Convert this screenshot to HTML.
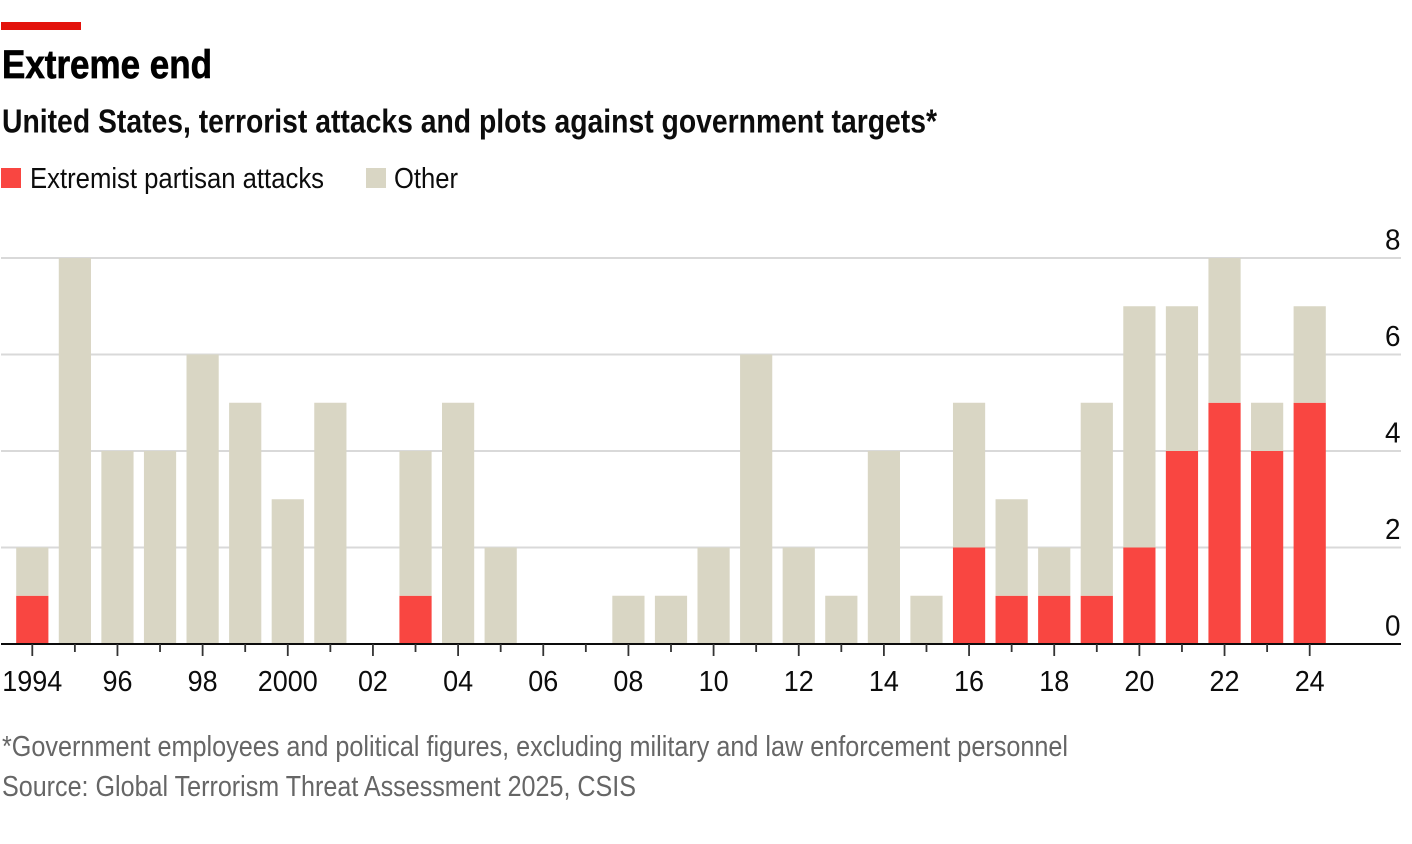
<!DOCTYPE html>
<html lang="en">
<head>
<meta charset="utf-8">
<title>Extreme end</title>
<style>
html,body{margin:0;padding:0;background:#fff;width:1412px;height:844px;overflow:hidden}
svg{display:block}
text{font-family:"Liberation Sans",sans-serif}
</style>
</head>
<body>
<svg id="chart" xmlns="http://www.w3.org/2000/svg" width="1412" height="844" viewBox="0 0 1412 844">
  <rect x="1" y="22" width="80" height="8" fill="#e3120b"/>
  <text x="2" y="78" font-size="40" font-weight="700" fill="#000" stroke="#000" stroke-width="0.7" textLength="210" lengthAdjust="spacingAndGlyphs">Extreme end</text>
  <text x="2" y="132.5" font-size="33" font-weight="700" fill="#0c0c0c" textLength="935" lengthAdjust="spacingAndGlyphs">United States, terrorist attacks and plots against government targets*</text>
  <rect x="1" y="168" width="20" height="20" fill="#f94641"/>
  <text x="30" y="188" font-size="29" fill="#0c0c0c" textLength="294" lengthAdjust="spacingAndGlyphs">Extremist partisan attacks</text>
  <rect x="366" y="168" width="20" height="20" fill="#d9d6c4"/>
  <text x="394" y="188" font-size="29" fill="#0c0c0c" textLength="64" lengthAdjust="spacingAndGlyphs">Other</text>
  <g id="grid"></g>
  <g id="bars"></g>
  <g id="axes"></g>
  <text x="2" y="756" font-size="29" fill="#666" textLength="1066" lengthAdjust="spacingAndGlyphs">*Government employees and political figures, excluding military and law enforcement personnel</text>
  <text x="2" y="796" font-size="29" fill="#666" textLength="634" lengthAdjust="spacingAndGlyphs">Source: Global Terrorism Threat Assessment 2025, CSIS</text>
</svg>
<script>
const years = [1994,1995,1996,1997,1998,1999,2000,2001,2002,2003,2004,2005,2006,2007,2008,2009,2010,2011,2012,2013,2014,2015,2016,2017,2018,2019,2020,2021,2022,2023,2024];
const extremist = [1,0,0,0,0,0,0,0,0,1,0,0,0,0,0,0,0,0,0,0,0,0,2,1,1,1,2,4,5,4,5];
const other = [1,8,4,4,6,5,3,5,0,3,5,2,0,0,1,1,2,6,2,1,4,1,3,2,1,4,5,3,3,1,2];
const yTicks = [0,2,4,6,8];
const xTickYears = [1994,1995,1996,1997,1998,1999,2000,2001,2002,2003,2004,2005,2006,2007,2008,2009,2010,2011,2012,2013,2014,2015,2016,2017,2018,2019,2020,2021,2022,2023,2024];
const xTickLabels = {1994:"1994",1996:"96",1998:"98",2000:"2000",2002:"02",2004:"04",2006:"06",2008:"08",2010:"10",2012:"12",2014:"14",2016:"16",2018:"18",2020:"20",2022:"22",2024:"24"};

const NS = "http://www.w3.org/2000/svg";
function xScale(year){ return 32.3 + (year - 1994) * 42.58; }
function yScale(value){ return 644 - value * 48.25; }
const BAR_W = 32.2;

const gridG = document.getElementById("grid");
const barsG = document.getElementById("bars");
const axesG = document.getElementById("axes");

function mk(tag, attrs){
  const el = document.createElementNS(NS, tag);
  for (const k in attrs) el.setAttribute(k, attrs[k]);
  return el;
}

yTicks.forEach(function(t){
  if (t !== 0) {
    const line = mk("line", {x1:1, x2:1401, y1:yScale(t), y2:yScale(t), stroke:"#d9d9d9", "stroke-width":2});
    
    
    gridG.appendChild(line);
  }
  const label = mk("text", {x:1400.5, y:yScale(t) - 8.5, "text-anchor":"end", "font-size":29, fill:"#0c0c0c", textLength:15.5, lengthAdjust:"spacingAndGlyphs"});
  
  
  label.textContent = String(t);
  axesG.appendChild(label);
});

years.forEach(function(year, i){
  const x = xScale(year) - BAR_W / 2;
  if (extremist[i] > 0) {
    const r = mk("rect", {x:x, width:BAR_W, y:yScale(extremist[i]), height:yScale(0) - yScale(extremist[i]), fill:"#f94641"});
    
    
    barsG.appendChild(r);
  }
  if (other[i] > 0) {
    const top = extremist[i] + other[i];
    const r2 = mk("rect", {x:x, width:BAR_W, y:yScale(top), height:yScale(extremist[i]) - yScale(top), fill:"#d9d6c4"});
    
    
    barsG.appendChild(r2);
  }
});

const axisLine = mk("line", {x1:1, x2:1401, y1:644, y2:644, stroke:"#0c0c0c", "stroke-width":2});


axesG.appendChild(axisLine);

xTickYears.forEach(function(year){
  const major = xTickLabels[year] !== undefined;
  const tick = mk("line", {x1:xScale(year), x2:xScale(year), y1:644, y2:major ? 656 : 652, stroke:"#333", "stroke-width":1.8});
  
  
  axesG.appendChild(tick);
  if (major) {
    const text = xTickLabels[year];
    const lab = mk("text", {x:xScale(year), y:691, "text-anchor":"middle", "font-size":29, fill:"#0c0c0c", textLength:text.length * 15, lengthAdjust:"spacingAndGlyphs"});
    
    
    lab.textContent = text;
    axesG.appendChild(lab);
  }
});
</script>
</body>
</html>
